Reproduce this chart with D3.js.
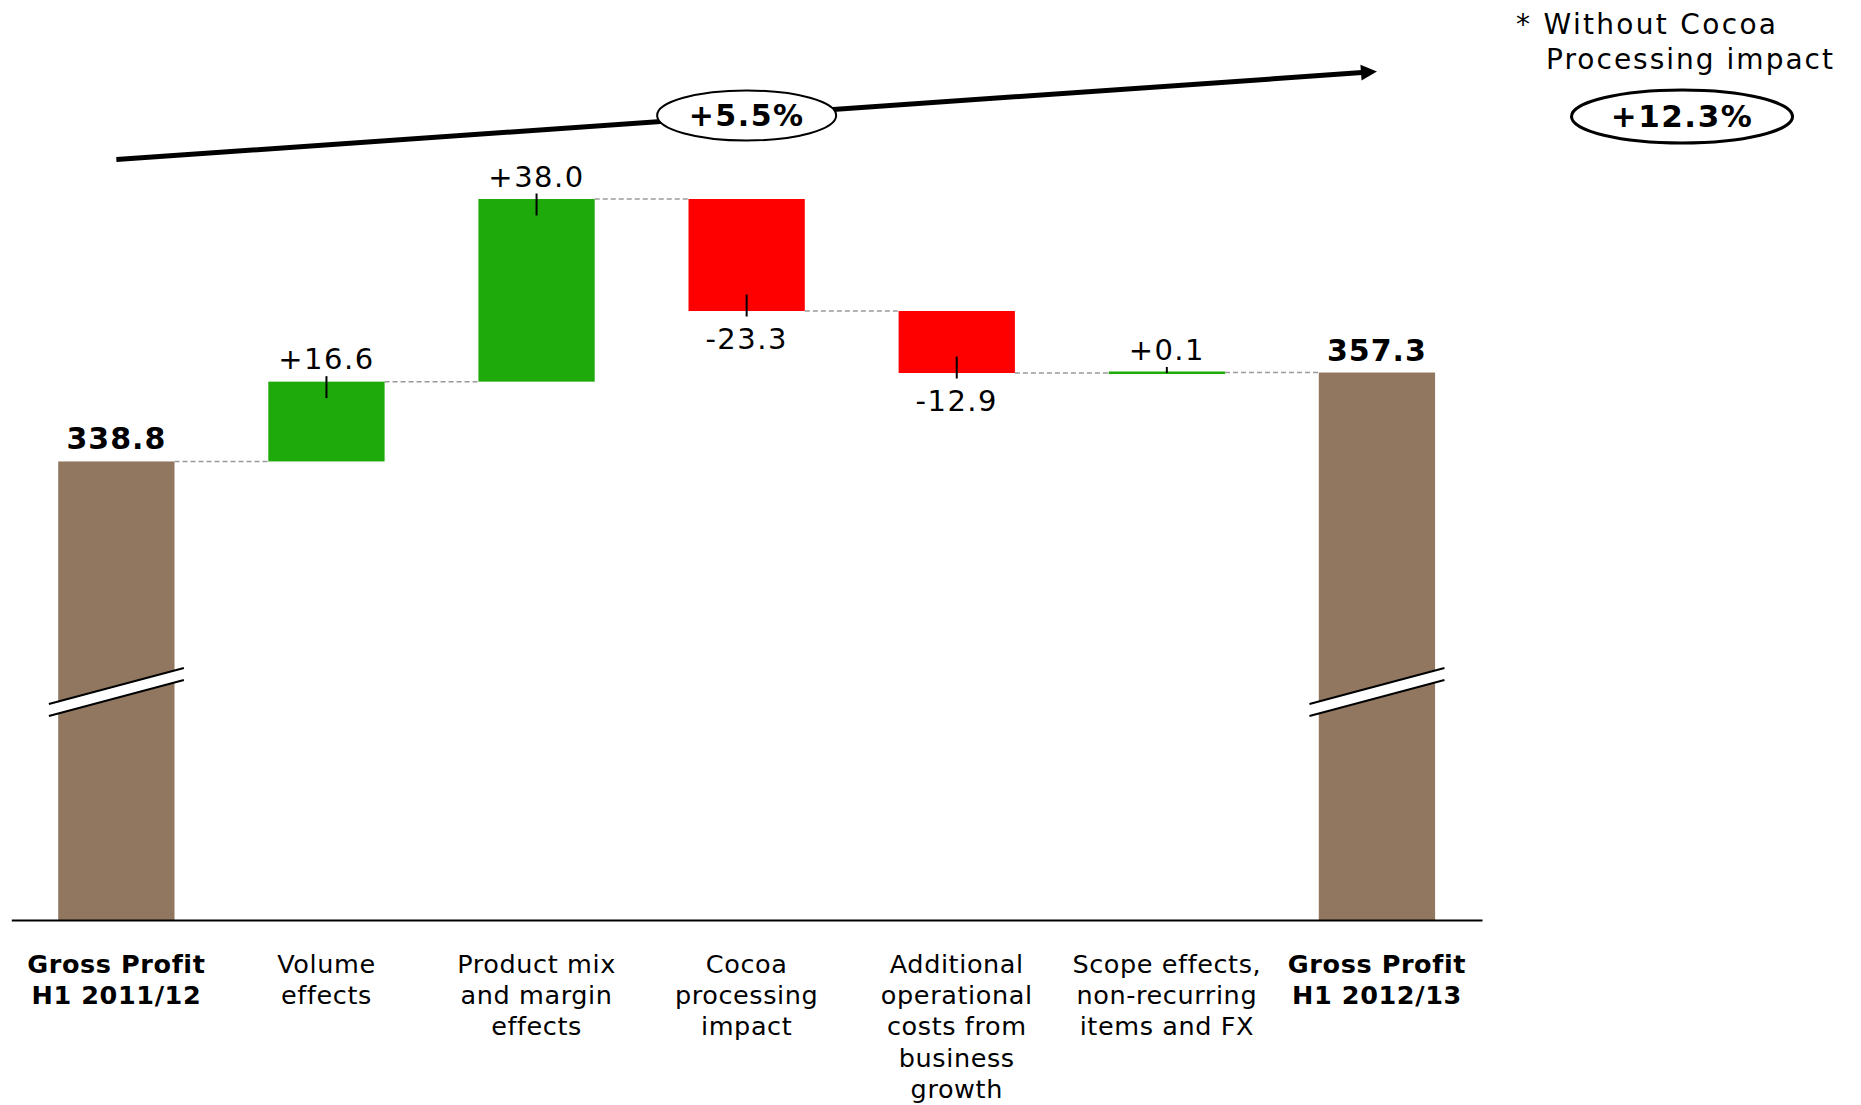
<!DOCTYPE html>
<html>
<head>
<meta charset="utf-8">
<script src="https://cdn.jsdelivr.net/npm/d3@7"></script>
<style>
  html, body { margin: 0; padding: 0; background: #fff; }
  svg { display: block; font-family: "DejaVu Sans", Verdana, sans-serif; }
</style>
</head>
<body>
<svg id="chart" width="1861" height="1105"></svg>
<script>
// Gross profit bridge, H1 2011/12 -> H1 2012/13 (CHF m)
const categories = [
  "Gross Profit H1 2011/12",
  "Volume effects",
  "Product mix and margin effects",
  "Cocoa processing impact",
  "Additional operational costs from business growth",
  "Scope effects, non-recurring items and FX",
  "Gross Profit H1 2012/13"
];
const categoryLines = [
  ["Gross Profit", "H1 2011/12"],
  ["Volume", "effects"],
  ["Product mix", "and margin", "effects"],
  ["Cocoa", "processing", "impact"],
  ["Additional", "operational", "costs from", "business", "growth"],
  ["Scope effects,", "non-recurring", "items and FX"],
  ["Gross Profit", "H1 2012/13"]
];
const values = [338.8, 16.6, 38.0, -23.3, -12.9, 0.1, 357.3];
const kinds = ["total", "delta", "delta", "delta", "delta", "delta", "total"];
const yDomain = [243.4, 393.4];           // broken value axis
const cocoaIndex = 3;                      // step excluded in the starred growth figure
const noteLines = ["* Without Cocoa", "Processing impact"];

const COLORS = { total: "#917760", up: "#1EAA0B", down: "#FF0000" };

const svg = d3.select("#chart");
const baseY = 920;

const x = d3.scaleBand()
  .domain(categories)
  .range([11.3, 1482])
  .paddingInner(0.4465)
  .paddingOuter(0.2233);

const y = d3.scaleLinear().domain(yDomain).range([baseY, 199]);

const loc = d3.formatLocale({ decimal: ".", thousands: ",", grouping: [3], currency: ["", ""], minus: "-" });
const fmtTotal = loc.format(".1f");
const fmtDelta = loc.format("+.1f");
const fmtPct = loc.format("+.1%");

// running waterfall
let running = 0;
const steps = categories.map((c, i) => {
  let start, end;
  if (kinds[i] === "total") { start = yDomain[0]; end = values[i]; }
  else { start = running; end = running + values[i]; }
  running = end;
  return { cat: c, i, kind: kinds[i], value: values[i], start, end };
});

// dashed connectors between consecutive bars
const conn = svg.append("g");
steps.slice(0, -1).forEach((s, k) => {
  const next = steps[k + 1];
  conn.append("line")
    .attr("x1", x(s.cat) + x.bandwidth())
    .attr("x2", x(next.cat))
    .attr("y1", y(s.end)).attr("y2", y(s.end))
    .attr("stroke", "#9a9a9a")
    .attr("stroke-width", 1.5)
    .attr("stroke-dasharray", "5,3");
});

// bars
const bars = svg.append("g");
steps.forEach(s => {
  const top = y(Math.max(s.start, s.end));
  const bot = y(Math.min(s.start, s.end));
  let h = bot - top, yy = top;
  if (h < 2.5) { yy = (top + bot) / 2 - 1.25; h = 2.5; }
  const fill = s.kind === "total" ? COLORS.total : (s.value >= 0 ? COLORS.up : COLORS.down);
  bars.append("rect")
    .attr("x", x(s.cat)).attr("y", yy)
    .attr("width", x.bandwidth()).attr("height", h)
    .attr("fill", fill);
});

// axis break marks on the total bars
const breakY = 692;
steps.filter(s => s.kind === "total").forEach(s => {
  const cx = x(s.cat) + x.bandwidth() / 2;
  const half = 67.5, rise = 18, gap = 12;
  const x0 = cx - half, x1 = cx + half;
  const g = svg.append("g");
  g.append("polygon")
    .attr("points", [[x0, breakY + rise], [x1, breakY - rise], [x1, breakY - rise + gap], [x0, breakY + rise + gap]].map(p => p.join(",")).join(" "))
    .attr("transform", `translate(0,${-gap / 2})`)
    .attr("fill", "#fff");
  [-gap / 2, gap / 2].forEach(off => {
    g.append("line")
      .attr("x1", x0).attr("y1", breakY + rise + off)
      .attr("x2", x1).attr("y2", breakY - rise + off)
      .attr("stroke", "#000").attr("stroke-width", 2);
  });
});

// value ticks and labels
const lab = svg.append("g");
steps.forEach(s => {
  const cx = x(s.cat) + x.bandwidth() / 2;
  const h = Math.abs(y(s.start) - y(s.end));
  if (s.kind === "total") {
    lab.append("text")
      .attr("x", cx).attr("y", y(s.end) - 12)
      .attr("text-anchor", "middle")
      .attr("font-size", 30).attr("font-weight", "bold")
      .attr("letter-spacing", 1)
      .text(fmtTotal(s.value));
    return;
  }
  const ye = y(s.end);
  const inward = Math.min(16.5, h);
  if (s.value >= 0) {
    lab.append("line").attr("x1", cx).attr("x2", cx)
      .attr("y1", ye - 5.5).attr("y2", ye + inward)
      .attr("stroke", "#000").attr("stroke-width", 2);
    lab.append("text")
      .attr("x", cx).attr("y", ye - 12.5)
      .attr("text-anchor", "middle").attr("font-size", 29)
      .attr("letter-spacing", 1.5)
      .text(fmtDelta(s.value));
  } else {
    lab.append("line").attr("x1", cx).attr("x2", cx)
      .attr("y1", ye + 5.5).attr("y2", ye - inward)
      .attr("stroke", "#000").attr("stroke-width", 2);
    lab.append("text")
      .attr("x", cx).attr("y", ye + 37.6)
      .attr("text-anchor", "middle").attr("font-size", 29)
      .attr("letter-spacing", 1.5)
      .text(fmtDelta(s.value));
  }
});

// category axis
const axis = svg.append("g")
  .attr("transform", `translate(0,${baseY})`)
  .call(d3.axisBottom(x).tickSize(0).tickSizeOuter(0).tickFormat(""));
axis.select(".domain").attr("stroke", "#000").attr("stroke-width", 2);
axis.selectAll(".tick").each(function(d, i) {
  const t = d3.select(this).select("text")
    .attr("y", 0).attr("dy", null)
    .attr("font-family", "DejaVu Sans, Verdana, sans-serif")
    .attr("font-size", 25.5)
    .attr("letter-spacing", 0.6)
    .attr("fill", "#000")
    .attr("font-weight", kinds[i] === "total" ? "bold" : "normal");
  categoryLines[i].forEach((line, j) => {
    t.append("tspan").attr("x", 0).attr("y", 52.7 + j * 31.3).text(line);
  });
});

// overall growth arrow from first to last total
const ax0 = x(categories[0]) + x.bandwidth() / 2;
const ax1 = x(categories[categories.length - 1]) + x.bandwidth() / 2;
const ay0 = 159.5, ay1 = 71.5;
const ang = Math.atan2(ay1 - ay0, ax1 - ax0);
const headLen = 16, headHalf = 8;
const bx = ax1 - headLen * Math.cos(ang), by = ay1 - headLen * Math.sin(ang);
const arrow = svg.append("g");
arrow.append("line")
  .attr("x1", ax0).attr("y1", ay0).attr("x2", bx + 1).attr("y2", by)
  .attr("stroke", "#000").attr("stroke-width", 5);
arrow.append("polygon")
  .attr("points", [
    [ax1, ay1],
    [bx - headHalf * Math.sin(ang), by + headHalf * Math.cos(ang)],
    [bx + headHalf * Math.sin(ang), by - headHalf * Math.cos(ang)]
  ].map(p => p.join(",")).join(" "))
  .attr("fill", "#000");

// growth bubble on the arrow
const growth = values[values.length - 1] / values[0] - 1;
const gcx = x(categories[cocoaIndex]) + x.bandwidth() / 2;
const gcy = ay0 + (gcx - ax0) * Math.tan(ang);
arrow.append("ellipse")
  .attr("cx", gcx).attr("cy", gcy).attr("rx", 89.5).attr("ry", 25)
  .attr("fill", "#fff").attr("stroke", "#000").attr("stroke-width", 2);
arrow.append("text")
  .attr("x", gcx).attr("y", gcy + 10.5)
  .attr("text-anchor", "middle").attr("font-size", 30).attr("font-weight", "bold")
  .attr("letter-spacing", 1.5)
  .text(fmtPct(growth));

// starred note: growth excluding cocoa processing
const growthExCocoa = (values[values.length - 1] - values[cocoaIndex]) / values[0] - 1;
const note = svg.append("g");
note.append("text")
  .attr("x", 1516).attr("y", 33.5).attr("font-size", 28)
  .attr("textLength", 260).attr("lengthAdjust", "spacing")
  .text(noteLines[0]);
note.append("text")
  .attr("x", 1546).attr("y", 69).attr("font-size", 28)
  .attr("textLength", 287).attr("lengthAdjust", "spacing")
  .text(noteLines[1]);
note.append("ellipse")
  .attr("cx", 1682).attr("cy", 116.5).attr("rx", 110.5).attr("ry", 26.5)
  .attr("fill", "#fff").attr("stroke", "#000").attr("stroke-width", 3);
note.append("text")
  .attr("x", 1682).attr("y", 127)
  .attr("text-anchor", "middle").attr("font-size", 31).attr("font-weight", "bold")
  .attr("letter-spacing", 1.5)
  .text(fmtPct(growthExCocoa));
</script>
</body>
</html>
